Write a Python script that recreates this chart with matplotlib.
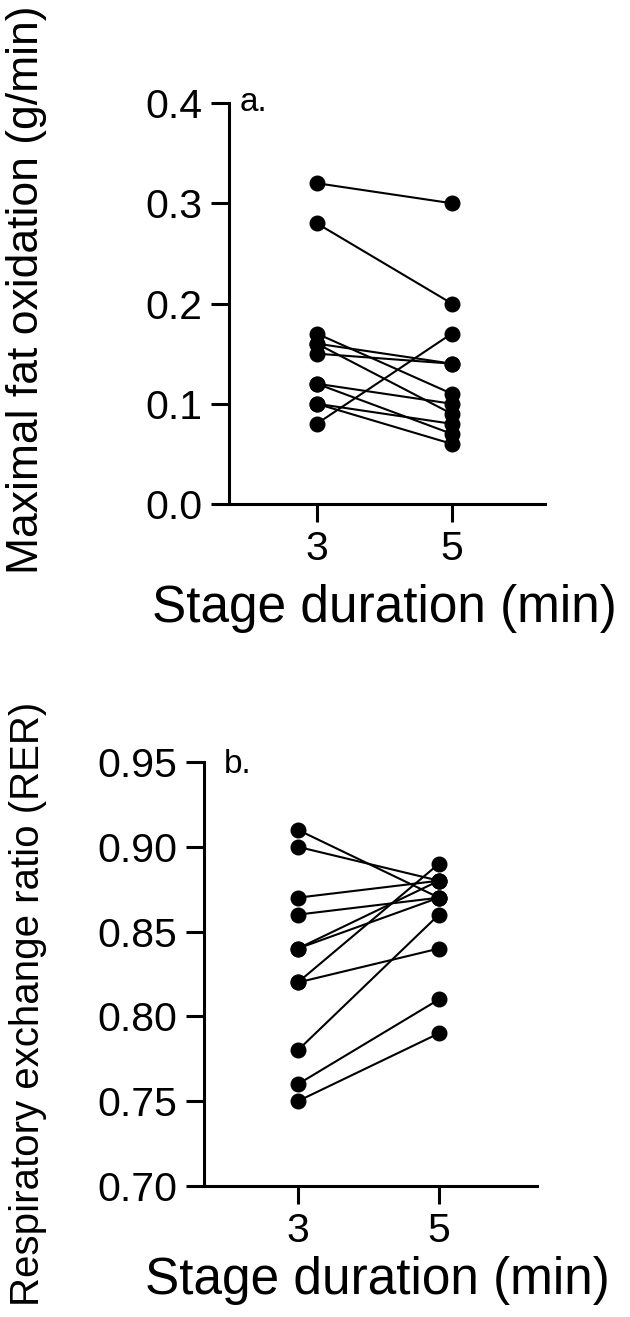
import numpy as np
import matplotlib.pyplot as plt

# -----------------------------
# Data (paired: 3 min vs 5 min stages)
# -----------------------------
stage_x = [3, 5]
xticklabels = ["3", "5"]

# Maximal fat oxidation (g/min)
mfo_3 = [0.32, 0.28, 0.17, 0.16, 0.16, 0.15, 0.12, 0.12, 0.10, 0.10, 0.08]
mfo_5 = [0.30, 0.20, 0.11, 0.14, 0.09, 0.14, 0.10, 0.07, 0.08, 0.06, 0.17]

# Respiratory exchange ratio
rer_3 = [0.91, 0.90, 0.87, 0.86, 0.84, 0.84, 0.82, 0.82, 0.78, 0.76, 0.75]
rer_5 = [0.87, 0.88, 0.88, 0.87, 0.88, 0.87, 0.89, 0.84, 0.86, 0.81, 0.79]

mfo_ticks = [0.0, 0.1, 0.2, 0.3, 0.4]
rer_ticks = [0.70, 0.75, 0.80, 0.85, 0.90, 0.95]

plt.rcParams['font.family'] = ['Liberation Sans', 'DejaVu Sans']

fig = plt.figure(figsize=(6.3, 13.17), dpi=100)
ax_a = fig.add_axes([0.3635, 0.6173, 0.5015, 0.3045])
ax_b = fig.add_axes([0.3238, 0.0995, 0.5286, 0.3219])


def style_axis(ax, yticks, yfmt):
    for side in ["top", "right"]:
        ax.spines[side].set_visible(False)
    for side in ["left", "bottom"]:
        ax.spines[side].set_linewidth(2.2)
    ax.set_xticks(stage_x)
    ax.set_xticklabels(xticklabels)
    ax.set_yticks(yticks)
    ax.set_yticklabels([yfmt.format(v) for v in yticks])
    ax.tick_params(axis="both", width=2.2, length=13, labelsize=29.5, pad=6)
    ax.set_ylim(yticks[0], yticks[-1])


def paired(ax, before, after):
    for b, a in zip(before, after):
        ax.plot(stage_x, [b, a], color="black", linewidth=1.5, marker="o",
                markersize=10.5, clip_on=False, zorder=3)


# Panel a
paired(ax_a, mfo_3, mfo_5)
style_axis(ax_a, mfo_ticks, "{:.1f}")
ax_a.set_xlim(1.70, 6.38)
ax_a.set_xlabel("Stage duration (min)", fontsize=37)
ax_a.set_ylabel("Maximal fat oxidation (g/min)", fontsize=32)
ax_a.xaxis.set_label_coords(0.492, -0.2)
ax_a.yaxis.set_label_coords(-0.576, 0.534)
ax_a.text(0.035, 1.0, "a.", transform=ax_a.transAxes, fontsize=24,
          ha="left", va="center")

# Panel b
paired(ax_b, rer_3, rer_5)
style_axis(ax_b, rer_ticks, "{:.2f}")
ax_b.set_xlim(1.67, 6.39)
ax_b.set_xlabel("Stage duration (min)", fontsize=37)
ax_b.set_ylabel("Respiratory exchange ratio (RER)", fontsize=29)
ax_b.xaxis.set_label_coords(0.52, -0.165)
ax_b.yaxis.set_label_coords(-0.47, 0.43)
ax_b.text(0.06, 0.995, "b.", transform=ax_b.transAxes, fontsize=24,
          ha="left", va="center")

fig.savefig("out.png", dpi=100)
plt.close(fig)
